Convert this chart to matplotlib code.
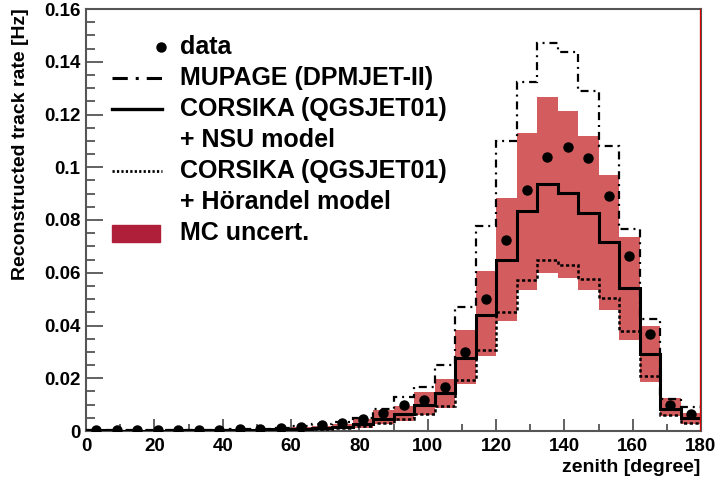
import matplotlib
matplotlib.use("Agg")
import matplotlib.pyplot as plt
from matplotlib.lines import Line2D
from matplotlib.patches import Rectangle
import numpy as np

# zenith bins (degree)
bin_edges = list(range(0, 181, 6))

data_rate = [0.0003, 0.0003, 0.0003, 0.0003, 0.0003, 0.0003, 0.0003, 0.0006, 0.0008, 0.0010,
             0.0015, 0.0021, 0.0030, 0.0045, 0.0068, 0.0100, 0.0117, 0.0168, 0.0300, 0.0500,
             0.0724, 0.0915, 0.1038, 0.1075, 0.1034, 0.0892, 0.0664, 0.0368, 0.0100, 0.0064]

mupage = [0.0003, 0.0002, 0.0002, 0.0002, 0.0002, 0.0003, 0.0004, 0.0006, 0.0008, 0.0012,
          0.0018, 0.0025, 0.0035, 0.0050, 0.0083, 0.0128, 0.0166, 0.0249, 0.0472, 0.0777,
          0.1100, 0.1325, 0.1470, 0.1436, 0.1290, 0.1080, 0.0766, 0.0425, 0.0121, 0.0090]

corsika_nsu = [0.0002, 0.0001, 0.0001, 0.0001, 0.0002, 0.0002, 0.0003, 0.0004, 0.0005, 0.0007,
               0.0009, 0.0012, 0.0017, 0.0027, 0.0045, 0.0066, 0.0100, 0.0143, 0.0278, 0.0440,
               0.0650, 0.0835, 0.0938, 0.0904, 0.0827, 0.0716, 0.0542, 0.0293, 0.0085, 0.0050]

corsika_horandel = [0.0001, 0.0001, 0.0001, 0.0001, 0.0001, 0.0001, 0.0002, 0.0003, 0.0004, 0.0005,
                    0.0006, 0.0008, 0.0012, 0.0019, 0.0032, 0.0045, 0.0064, 0.0096, 0.0194, 0.0309,
                    0.0450, 0.0574, 0.0650, 0.0628, 0.0577, 0.0504, 0.0380, 0.0207, 0.0060, 0.0032]

mc_low = [0.0, 0.0, 0.0, 0.0, 0.0, 0.0, 0.0001, 0.0002, 0.0002, 0.0003,
          0.0004, 0.0005, 0.0007, 0.0013, 0.0026, 0.0038, 0.0061, 0.0089, 0.0179, 0.0283,
          0.0418, 0.0536, 0.0600, 0.0580, 0.0533, 0.0460, 0.0345, 0.0187, 0.0055, 0.0027]

mc_high = [0.0004, 0.0003, 0.0003, 0.0003, 0.0003, 0.0004, 0.0005, 0.0007, 0.0009, 0.0012,
           0.0015, 0.0020, 0.0027, 0.0045, 0.0079, 0.0096, 0.0147, 0.0198, 0.0383, 0.0606,
           0.0884, 0.1130, 0.1267, 0.1214, 0.1120, 0.0972, 0.0735, 0.0400, 0.0127, 0.0070]

y_ticks = [0, 0.02, 0.04, 0.06, 0.08, 0.1, 0.12, 0.14, 0.16]
y_ticklabels = ["0", "0.02", "0.04", "0.06", "0.08", "0.1", "0.12", "0.14", "0.16"]
x_ticks = [0, 20, 40, 60, 80, 100, 120, 140, 160, 180]

legend_labels = ["data", "MUPAGE (DPMJET-II)", "CORSIKA (QGSJET01)", "+ NSU model",
                 "CORSIKA (QGSJET01)", "+ H\u00f6randel model", "MC uncert."]

plt.rcParams['font.family'] = ['Liberation Sans', 'DejaVu Sans']
plt.rcParams['font.weight'] = 'bold'

W, H = 719, 483
fig = plt.figure(figsize=(W / 100, H / 100), dpi=100)
ax = fig.add_axes([86 / W, 1 - 431 / H, 615 / W, 422 / H])

edges = np.array(bin_edges)
centers = 0.5 * (edges[:-1] + edges[1:])
band_col = '#d35d5e'

ax.stairs(mc_high, edges, baseline=mc_low, fill=True, color=band_col, lw=0, zorder=1)
ax.stairs(mupage, edges, baseline=None, color='black', lw=1.6,
          linestyle=(0, (3.6, 2.2, 0.9, 2.2)), zorder=3)
ax.stairs(corsika_nsu, edges, baseline=None, color='black', lw=2.2, zorder=3)
ax.stairs(corsika_horandel, edges, baseline=None, color='black', lw=1.8,
          linestyle=(0, (1.3, 1.0)), zorder=3)
ax.plot(centers, data_rate, 'o', color='black', ms=6.5, zorder=4)
ax.axvline(180, color='#dd0000', lw=1.6, zorder=5)

ax.set_xlim(0, 180)
ax.set_ylim(0, 0.16)
ax.set_xticks(x_ticks)
ax.set_xticks(range(10, 180, 20), minor=True)
ax.set_yticks(y_ticks)
ax.set_yticklabels(y_ticklabels)
ax.set_yticks(np.arange(0.005, 0.16, 0.005), minor=True)

for s in ax.spines.values():
    s.set_color('#555555')
    s.set_linewidth(1.5)
ax.tick_params(axis='both', which='both', direction='in', color='#555555', width=1.3,
               labelsize=13.5)
ax.tick_params(axis='y', which='major', length=12, pad=4)
ax.tick_params(axis='y', which='minor', length=6.5)
ax.tick_params(axis='x', which='major', length=9, pad=5)
ax.tick_params(axis='x', which='minor', length=5)
for lab in ax.get_xticklabels() + ax.get_yticklabels():
    lab.set_fontweight('bold')

fig.text(700 / W, 1 - 467 / H, "zenith [degree]", ha='right', va='center',
         fontsize=14, fontweight='bold')
fig.text(21 / W, 1 - 8 / H, "Reconstructed track rate [Hz]", ha='center', va='top',
         rotation=90, fontsize=14, fontweight='bold')

# legend drawn by hand, ROOT style
def fx(px):
    return px / W

def fy(py):
    return 1 - py / H

rows = [47, 78, 109, 140, 171, 202, 233]
for lab, r in zip(legend_labels, rows):
    fig.text(fx(180), fy(r), lab, ha='left', va='center', fontsize=18, fontweight='bold')

fig.add_artist(Line2D([fx(161)], [fy(rows[0])], marker='o', color='black', ms=6.5,
                      transform=fig.transFigure))
fig.add_artist(Line2D([fx(112), fx(162)], [fy(rows[1]), fy(rows[1])], color='black', lw=2.2,
                      linestyle=(0, (5, 2.6, 1, 2.6)), transform=fig.transFigure))
fig.add_artist(Line2D([fx(112), fx(162)], [fy(rows[2]), fy(rows[2])], color='black', lw=2.4,
                      transform=fig.transFigure))
fig.add_artist(Line2D([fx(112), fx(162)], [fy(rows[4]), fy(rows[4])], color='black', lw=2.0,
                      linestyle=(0, (0.8, 0.8)), transform=fig.transFigure))
fig.add_artist(Rectangle((fx(112), fy(242)), fx(160) - fx(112), fy(225) - fy(242),
                         color='#b01f3a', transform=fig.transFigure))

fig.savefig("out.png", dpi=100)
